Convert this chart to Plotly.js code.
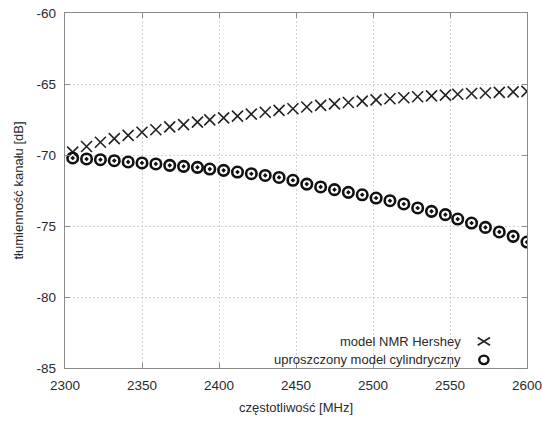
<!DOCTYPE html>
<html><head><meta charset="utf-8">
<script src="https://cdn.plot.ly/plotly-3.0.1.min.js"></script>
<style>html,body{margin:0;padding:0;background:#fff}#c{width:542px;height:421px}</style>
</head><body><div id="c"></div>
<script>
const freq = [2305,2314,2323,2332,2341,2350,2359,2368,2377,2386,2394,2403,2412,2421,2430,2439,2448,2457,2466,2475,2484,2493,2502,2511,2520,2529,2538,2547,2555,2564,2573,2582,2591,2600];
const hershey = [-69.80,-69.40,-69.10,-68.85,-68.62,-68.40,-68.22,-68.02,-67.86,-67.68,-67.53,-67.39,-67.26,-67.12,-66.99,-66.86,-66.74,-66.62,-66.51,-66.40,-66.30,-66.21,-66.12,-66.04,-65.97,-65.90,-65.84,-65.78,-65.72,-65.67,-65.63,-65.59,-65.55,-65.52];
const cylinder = [-70.21,-70.28,-70.33,-70.40,-70.49,-70.56,-70.63,-70.73,-70.80,-70.87,-70.99,-71.08,-71.20,-71.32,-71.44,-71.58,-71.78,-72.05,-72.25,-72.44,-72.63,-72.80,-73.03,-73.22,-73.45,-73.73,-73.97,-74.20,-74.51,-74.79,-75.10,-75.42,-75.73,-76.13];
const seriesNames = ["model NMR Hershey","uproszczony model cylindryczny"];
const xTicks = [2300,2350,2400,2450,2500,2550,2600];
const yTicks = [-85,-80,-75,-70,-65,-60];

const font = {family:"Liberation Sans, Arial, sans-serif", size:13.5, color:"#2a2a2a"};
const tfont = {family:"Liberation Sans, Arial, sans-serif", size:13, color:"#2a2a2a"};
const traces = [
  {x:freq, y:hershey, mode:"markers", name:seriesNames[0], showlegend:false,
   marker:{symbol:"x-thin-open", size:11, color:"#222", line:{width:1.6, color:"#222"}}},
  {x:freq, y:cylinder, mode:"markers", name:seriesNames[1], showlegend:false,
   marker:{symbol:"circle-open-dot", size:10.5, color:"#111", line:{width:2.6, color:"#111"}}}
];
const axisCommon = {showline:true, mirror:"ticks", linecolor:"#8a8a8a", linewidth:1.2,
  ticks:"inside", ticklen:5, tickcolor:"#8a8a8a", showgrid:true, gridcolor:"#d2d2d2",
  griddash:"2px,2px", gridwidth:1, zeroline:false, tickfont:font, ticklabeloverflow:"allow"};
const layout = {
  width:542, height:421, paper_bgcolor:"#fff", plot_bgcolor:"#fff",
  margin:{l:65, r:15, t:13, b:53},
  showlegend:false, font:font,
  xaxis:Object.assign({}, axisCommon, {range:[2300,2600], tickvals:xTicks, ticktext:xTicks.map(String),
    ticklabelstandoff:5,
    title:{text:"częstotliwość [MHz]", font:tfont, standoff:10}}),
  yaxis:Object.assign({}, axisCommon, {range:[-85,-60], tickvals:yTicks, ticktext:yTicks.map(String),
    ticklabelstandoff:5,
    title:{text:"tłumienność kanału [dB]", font:tfont, standoff:10}}),
  annotations:[
    {xref:"paper", yref:"paper", x:0.861, y:0.075, xanchor:"right", yanchor:"middle", showarrow:false, text:seriesNames[0], font:tfont},
    {xref:"paper", yref:"paper", x:0.861, y:0.023, xanchor:"right", yanchor:"middle", showarrow:false, text:seriesNames[1], font:tfont}
  ],
  shapes:[
    {type:"line", xref:"x", yref:"paper", x0:2568, x1:2576, y0:0.064, y1:0.086, line:{color:"#222", width:1.6}},
    {type:"line", xref:"x", yref:"paper", x0:2568, x1:2576, y0:0.086, y1:0.064, line:{color:"#222", width:1.6}},
    {type:"circle", xref:"x", yref:"paper", x0:2569, x1:2575, y0:0.011, y1:0.035, line:{color:"#111", width:2.4}}
  ]
};
Plotly.newPlot("c", traces, layout, {displayModeBar:false, staticPlot:true});
</script></body></html>
